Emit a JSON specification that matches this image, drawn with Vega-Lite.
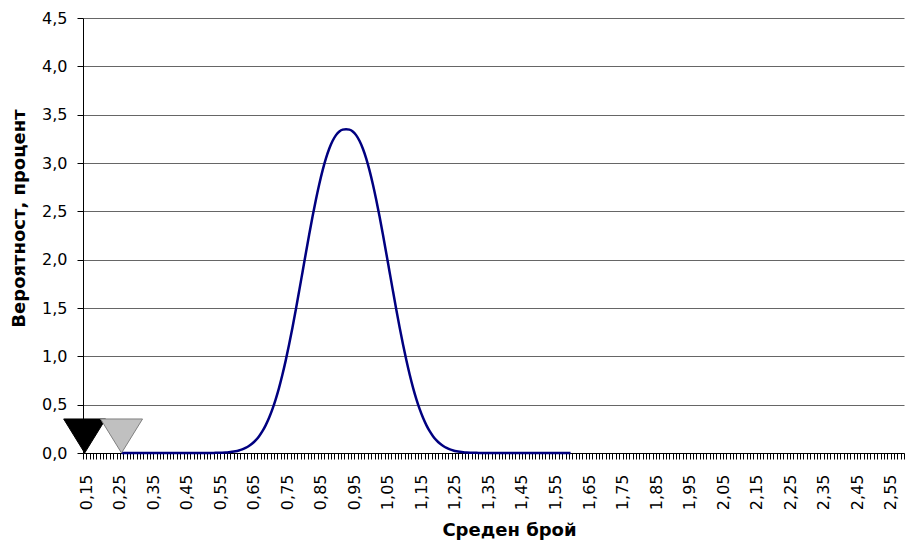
{
  "$schema": "https://vega.github.io/schema/vega-lite/v6.json",
  "width": 821,
  "height": 435,
  "autosize": {"type": "none"},
  "padding": {"left": 83, "top": 18, "right": 1, "bottom": 89},
  "background": "white",
  "config": {"view": {"stroke": null}},
  "datasets": {
    "curve": [
      {"x":0.26,"y":0},{"x":0.27,"y":0},{"x":0.28,"y":0},{"x":0.29,"y":0},{"x":0.30,"y":0},{"x":0.31,"y":0},{"x":0.32,"y":0},{"x":0.33,"y":0},{"x":0.34,"y":0},{"x":0.35,"y":0},
      {"x":0.36,"y":0},{"x":0.37,"y":0},{"x":0.38,"y":0},{"x":0.39,"y":0},{"x":0.40,"y":0},{"x":0.41,"y":0},{"x":0.42,"y":0},{"x":0.43,"y":0},{"x":0.44,"y":0},{"x":0.45,"y":0},
      {"x":0.46,"y":0},{"x":0.47,"y":0},{"x":0.48,"y":0},{"x":0.49,"y":0},{"x":0.50,"y":0},{"x":0.51,"y":0},{"x":0.52,"y":0},{"x":0.53,"y":0.001},{"x":0.54,"y":0.0015},{"x":0.55,"y":0.0024},
      {"x":0.56,"y":0.0037},{"x":0.57,"y":0.0057},{"x":0.58,"y":0.0085},{"x":0.59,"y":0.0127},{"x":0.60,"y":0.0185},{"x":0.61,"y":0.0265},{"x":0.62,"y":0.0375},{"x":0.63,"y":0.0524},{"x":0.64,"y":0.072},{"x":0.65,"y":0.0976},
      {"x":0.66,"y":0.1304},{"x":0.67,"y":0.1718},{"x":0.68,"y":0.2232},{"x":0.69,"y":0.286},{"x":0.70,"y":0.3615},{"x":0.71,"y":0.451},{"x":0.72,"y":0.555},{"x":0.73,"y":0.6743},{"x":0.74,"y":0.809},{"x":0.75,"y":0.9584},
      {"x":0.76,"y":1.1216},{"x":0.77,"y":1.2969},{"x":0.78,"y":1.4824},{"x":0.79,"y":1.6748},{"x":0.80,"y":1.8706},{"x":0.81,"y":2.067},{"x":0.82,"y":2.2601},{"x":0.83,"y":2.4458},{"x":0.84,"y":2.6206},{"x":0.85,"y":2.7809},
      {"x":0.86,"y":2.924},{"x":0.87,"y":3.0474},{"x":0.88,"y":3.1496},{"x":0.89,"y":3.2299},{"x":0.90,"y":3.2884},{"x":0.91,"y":3.3261},{"x":0.92,"y":3.3453},{"x":0.93,"y":3.35},{"x":0.94,"y":3.3453},{"x":0.95,"y":3.3261},
      {"x":0.96,"y":3.2884},{"x":0.97,"y":3.2299},{"x":0.98,"y":3.1496},{"x":0.99,"y":3.0474},{"x":1.00,"y":2.924},{"x":1.01,"y":2.7809},{"x":1.02,"y":2.6206},{"x":1.03,"y":2.4458},{"x":1.04,"y":2.2601},{"x":1.05,"y":2.067},
      {"x":1.06,"y":1.8706},{"x":1.07,"y":1.6748},{"x":1.08,"y":1.4824},{"x":1.09,"y":1.2969},{"x":1.10,"y":1.1216},{"x":1.11,"y":0.9584},{"x":1.12,"y":0.809},{"x":1.13,"y":0.6743},{"x":1.14,"y":0.555},{"x":1.15,"y":0.451},
      {"x":1.16,"y":0.3615},{"x":1.17,"y":0.286},{"x":1.18,"y":0.2232},{"x":1.19,"y":0.1718},{"x":1.20,"y":0.1304},{"x":1.21,"y":0.0976},{"x":1.22,"y":0.072},{"x":1.23,"y":0.0524},{"x":1.24,"y":0.0375},{"x":1.25,"y":0.0265},
      {"x":1.26,"y":0.0185},{"x":1.27,"y":0.0127},{"x":1.28,"y":0.0085},{"x":1.29,"y":0.0057},{"x":1.30,"y":0.0037},{"x":1.31,"y":0.0024},{"x":1.32,"y":0.0015},{"x":1.33,"y":0.001},{"x":1.34,"y":0},{"x":1.35,"y":0},
      {"x":1.36,"y":0},{"x":1.37,"y":0},{"x":1.38,"y":0},{"x":1.39,"y":0},{"x":1.40,"y":0},{"x":1.41,"y":0},{"x":1.42,"y":0},{"x":1.43,"y":0},{"x":1.44,"y":0},{"x":1.45,"y":0},
      {"x":1.46,"y":0},{"x":1.47,"y":0},{"x":1.48,"y":0},{"x":1.49,"y":0},{"x":1.50,"y":0},{"x":1.51,"y":0},{"x":1.52,"y":0},{"x":1.53,"y":0},{"x":1.54,"y":0},{"x":1.55,"y":0},
      {"x":1.56,"y":0},{"x":1.57,"y":0},{"x":1.58,"y":0},{"x":1.59,"y":0},{"x":1.60,"y":0}
    ],
    "markers": [
      {"x":0.15,"y":0,"marker":"1"},
      {"x":0.26,"y":0,"marker":"2"}
    ]
  },
  "encoding": {
    "x": {
      "field": "x",
      "type": "quantitative",
      "scale": {"domain": [0.145, 2.595], "nice": false, "zero": false, "padding": 0},
      "axis": {
        "title": "Среден брой",
        "values": [0.145,0.155,0.165,0.175,0.185,0.195,
          0.205,0.215,0.225,0.235,0.245,0.255,0.265,0.275,0.285,0.295,
          0.305,0.315,0.325,0.335,0.345,0.355,0.365,0.375,0.385,0.395,
          0.405,0.415,0.425,0.435,0.445,0.455,0.465,0.475,0.485,0.495,
          0.505,0.515,0.525,0.535,0.545,0.555,0.565,0.575,0.585,0.595,
          0.605,0.615,0.625,0.635,0.645,0.655,0.665,0.675,0.685,0.695,
          0.705,0.715,0.725,0.735,0.745,0.755,0.765,0.775,0.785,0.795,
          0.805,0.815,0.825,0.835,0.845,0.855,0.865,0.875,0.885,0.895,
          0.905,0.915,0.925,0.935,0.945,0.955,0.965,0.975,0.985,0.995,
          1.005,1.015,1.025,1.035,1.045,1.055,1.065,1.075,1.085,1.095,
          1.105,1.115,1.125,1.135,1.145,1.155,1.165,1.175,1.185,1.195,
          1.205,1.215,1.225,1.235,1.245,1.255,1.265,1.275,1.285,1.295,
          1.305,1.315,1.325,1.335,1.345,1.355,1.365,1.375,1.385,1.395,
          1.405,1.415,1.425,1.435,1.445,1.455,1.465,1.475,1.485,1.495,
          1.505,1.515,1.525,1.535,1.545,1.555,1.565,1.575,1.585,1.595,
          1.605,1.615,1.625,1.635,1.645,1.655,1.665,1.675,1.685,1.695,
          1.705,1.715,1.725,1.735,1.745,1.755,1.765,1.775,1.785,1.795,
          1.805,1.815,1.825,1.835,1.845,1.855,1.865,1.875,1.885,1.895,
          1.905,1.915,1.925,1.935,1.945,1.955,1.965,1.975,1.985,1.995,
          2.005,2.015,2.025,2.035,2.045,2.055,2.065,2.075,2.085,2.095,
          2.105,2.115,2.125,2.135,2.145,2.155,2.165,2.175,2.185,2.195,
          2.205,2.215,2.225,2.235,2.245,2.255,2.265,2.275,2.285,2.295,
          2.305,2.315,2.325,2.335,2.345,2.355,2.365,2.375,2.385,2.395,
          2.405,2.415,2.425,2.435,2.445,2.455,2.465,2.475,2.485,2.495,
          2.505,2.515,2.525,2.535,2.545,2.555,2.565,2.575,2.585,2.595],
        "labelExpr": "(round(datum.value*1000) % 100 == 55) ? replace(format(datum.value - 0.005, '.2f'), '.', ',') : ''",
        "labelAngle": -90,
        "labelAlign": "right",
        "labelBaseline": "middle",
        "labelOverlap": false,
        "labelFlush": false,
        "labelBound": false,
        "labelPadding": 15,
        "labelDy": -1.7,
        "labelFont": "DejaVu Sans",
        "labelFontSize": 16,
        "labelColor": "#000000",
        "ticks": true,
        "tickSize": 6,
        "tickColor": "#000000",
        "tickWidth": 1,
        "tickOpacity": 1,
        "domainColor": "#000000",
        "domainWidth": 1,
        "grid": false,
        "titleFont": "DejaVu Sans",
        "titleFontSize": 18,
        "titleFontWeight": "bold",
        "titleColor": "#000000",
        "titleX": 426,
        "titleY": 82,
        "titleAlign": "center",
        "titleBaseline": "alphabetic",
        "zindex": 0
      }
    },
    "y": {
      "field": "y",
      "type": "quantitative",
      "scale": {"domain": [0, 4.5], "nice": false, "zero": true},
      "axis": {
        "title": "Вероятност, процент",
        "values": [0, 0.5, 1, 1.5, 2, 2.5, 3, 3.5, 4, 4.5],
        "labelExpr": "replace(format(datum.value, '.1f'), '.', ',')",
        "labelFont": "DejaVu Sans",
        "labelFontSize": 16,
        "labelColor": "#000000",
        "labelPadding": 10,
        "labelDy": 2,
        "tickSize": 6,
        "tickColor": "#000000",
        "domainColor": "#000000",
        "grid": true,
        "gridColor": "#666666",
        "gridWidth": 1,
        "titleFont": "DejaVu Sans",
        "titleFontSize": 18,
        "titleFontWeight": "bold",
        "titleColor": "#000000",
        "titleAngle": -90,
        "titleX": -59,
        "titleY": 200,
        "titleAlign": "center",
        "titleBaseline": "alphabetic",
        "zindex": 0
      }
    }
  },
  "layer": [
    {
      "data": {"name": "curve"},
      "mark": {"type": "line", "color": "#000080", "strokeWidth": 2.5, "interpolate": "monotone"}
    },
    {
      "data": {"name": "markers"},
      "mark": {"type": "point", "shape": "M-1,-1.62L1,-1.62L0,0Z", "filled": true, "size": 1764, "opacity": 1, "strokeWidth": 1},
      "encoding": {
        "color": {"field": "marker", "type": "nominal", "scale": {"domain": ["1", "2"], "range": ["#000000", "#c0c0c0"]}, "legend": null},
        "stroke": {"field": "marker", "type": "nominal", "scale": {"domain": ["1", "2"], "range": ["#000000", "#808080"]}, "legend": null}
      }
    }
  ]
}
